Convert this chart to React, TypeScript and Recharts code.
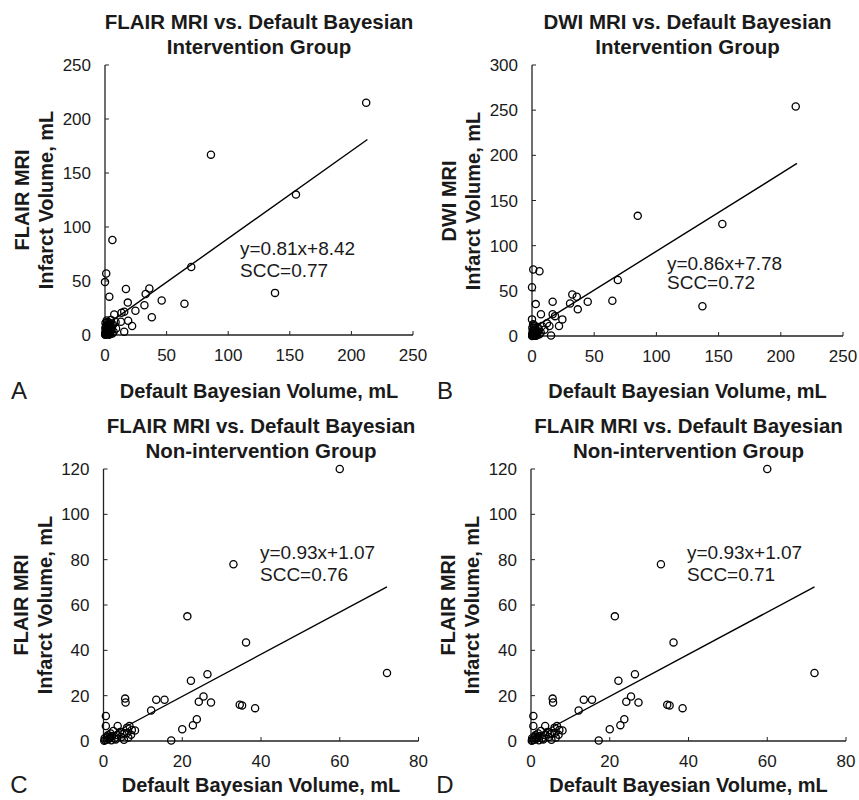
import React from "react";
import { ScatterChart, Scatter, XAxis, YAxis, ReferenceLine } from "recharts";

type Pt = { x: number; y: number };

// -------------------------------
// Panel A: FLAIR MRI vs default Bayesian, intervention group
// -------------------------------
const flairIntervention: Pt[] = [
  { x: 212, y: 215 }, { x: 86, y: 167 }, { x: 155, y: 130 }, { x: 6, y: 88 },
  { x: 70, y: 63 }, { x: 138, y: 39 }, { x: 1, y: 57 }, { x: 0, y: 49 },
  { x: 3.5, y: 35.5 }, { x: 17, y: 42.6 }, { x: 36, y: 43 }, { x: 33, y: 38 },
  { x: 18.5, y: 30 }, { x: 46, y: 32 }, { x: 64.5, y: 29 }, { x: 32, y: 27.5 },
  { x: 24.7, y: 22.5 }, { x: 38, y: 16.4 }, { x: 7.5, y: 19 }, { x: 13.4, y: 20.6 },
  { x: 15.6, y: 21.6 }, { x: 12.9, y: 12.3 }, { x: 18.8, y: 13.2 }, { x: 22, y: 8.3 },
  { x: 15.6, y: 3 }, { x: 8.6, y: 12 }, { x: 5.4, y: 9.3 }, { x: 4.8, y: 14 },
  { x: 0.5, y: 0.5 }, { x: 1, y: 1 }, { x: 1.5, y: 2 }, { x: 2, y: 0.8 },
  { x: 0.8, y: 3 }, { x: 2.5, y: 3.5 }, { x: 3, y: 1.5 }, { x: 1.2, y: 5 },
  { x: 0.3, y: 6.5 }, { x: 2, y: 7 }, { x: 3.5, y: 5.5 }, { x: 4, y: 2.5 },
  { x: 4.5, y: 8 }, { x: 5, y: 4 }, { x: 6, y: 1.5 }, { x: 1, y: 9 },
  { x: 2.8, y: 10.5 }, { x: 0.2, y: 2 }, { x: 3.2, y: 0.3 }, { x: 5.5, y: 6.5 },
  { x: 7, y: 3 }, { x: 1.8, y: 12 }, { x: 4, y: 11 }, { x: 6.5, y: 9.5 },
  { x: 0.6, y: 4.2 }, { x: 2.2, y: 1.2 }, { x: 0.1, y: 0.2 }, { x: 9, y: 6 },
  { x: 0.4, y: 11 }, { x: 1.4, y: 13.5 }, { x: 2.6, y: 5.8 }, { x: 3.8, y: 8.5 },
  { x: 1.7, y: 3.8 }, { x: 0.9, y: 7.6 }, { x: 4.2, y: 0.9 }, { x: 2.9, y: 2.6 },
];
const fitFlairIntervention: Pt[] = [{ x: 0, y: 8.4 }, { x: 213, y: 181 }];

// -------------------------------
// Panel B: DWI MRI vs default Bayesian, intervention group
// -------------------------------
const dwiIntervention: Pt[] = [
  { x: 212, y: 254 }, { x: 85, y: 133 }, { x: 153, y: 124 }, { x: 69, y: 62 },
  { x: 137, y: 33 }, { x: 1, y: 73.6 }, { x: 6, y: 71.7 }, { x: 0, y: 54 },
  { x: 3, y: 35.3 }, { x: 16.6, y: 37.9 }, { x: 32.4, y: 46 }, { x: 36, y: 43.4 },
  { x: 30.6, y: 36 }, { x: 44.8, y: 37.9 }, { x: 64.6, y: 39 }, { x: 36.8, y: 29.5 },
  { x: 7.2, y: 24 }, { x: 16.6, y: 24 }, { x: 18.5, y: 22 }, { x: 24.4, y: 18.4 },
  { x: 21.7, y: 11 }, { x: 15.3, y: 0.5 }, { x: 0, y: 18.4 }, { x: 12, y: 14 },
  { x: 14, y: 11 }, { x: 8, y: 11 }, { x: 4.5, y: 10 }, { x: 10, y: 7 },
  { x: 0.5, y: 0.5 }, { x: 1, y: 1.5 }, { x: 1.5, y: 3 }, { x: 2, y: 1 },
  { x: 0.8, y: 4.5 }, { x: 2.5, y: 5 }, { x: 3, y: 2 }, { x: 1.2, y: 7 },
  { x: 0.3, y: 9 }, { x: 2, y: 8.5 }, { x: 3.5, y: 6 }, { x: 4, y: 3 },
  { x: 5, y: 5 }, { x: 6, y: 2 }, { x: 0.2, y: 2.5 }, { x: 3.2, y: 0.3 },
  { x: 5.5, y: 7.5 }, { x: 7, y: 4 }, { x: 1.8, y: 12 }, { x: 0.6, y: 5.8 },
  { x: 0.1, y: 0.1 }, { x: 2.2, y: 0.4 }, { x: 1.4, y: 10.5 }, { x: 2.7, y: 3.8 },
  { x: 4.2, y: 1.2 }, { x: 0.9, y: 13 },
];
const fitDwiIntervention: Pt[] = [{ x: 0, y: 7.8 }, { x: 213, y: 191 }];

// -------------------------------
// Panels C and D: FLAIR MRI vs default Bayesian, non-intervention group
// -------------------------------
const flairNonIntervention: Pt[] = [
  { x: 60, y: 120 }, { x: 33, y: 78 }, { x: 21.3, y: 55 }, { x: 36.2, y: 43.5 },
  { x: 72, y: 30 }, { x: 22.2, y: 26.6 }, { x: 26.4, y: 29.5 }, { x: 25.4, y: 19.6 },
  { x: 24.2, y: 17.3 }, { x: 27.3, y: 17 }, { x: 34.6, y: 16 }, { x: 35.2, y: 15.7 },
  { x: 38.5, y: 14.5 }, { x: 23.7, y: 9.6 }, { x: 22.7, y: 7 }, { x: 20, y: 5.2 },
  { x: 17.2, y: 0.2 }, { x: 13.4, y: 18.2 }, { x: 15.5, y: 18.2 }, { x: 12.1, y: 13.5 },
  { x: 5.5, y: 18.7 }, { x: 5.6, y: 17 }, { x: 0.6, y: 11 }, { x: 0.6, y: 6.6 },
  { x: 3.6, y: 6.6 }, { x: 6.6, y: 6.6 }, { x: 8, y: 4.6 }, { x: 2.5, y: 4.4 },
  { x: 4.2, y: 4 }, { x: 5.3, y: 3.4 }, { x: 6.3, y: 1.5 }, { x: 1, y: 1.8 },
  { x: 0.4, y: 0.4 }, { x: 3.1, y: 0.7 }, { x: 7.2, y: 4.9 }, { x: 6, y: 5.9 },
  { x: 1.8, y: 3.3 }, { x: 0.2, y: 0.1 }, { x: 0.8, y: 0.6 }, { x: 1.3, y: 0.9 },
  { x: 1.6, y: 1.4 }, { x: 2.2, y: 2.2 }, { x: 2.8, y: 1.1 }, { x: 3.5, y: 2.6 },
  { x: 4.5, y: 1.8 }, { x: 4.8, y: 3 }, { x: 5.2, y: 0.5 }, { x: 6, y: 3.5 },
  { x: 7, y: 2.8 }, { x: 1.1, y: 2.5 }, { x: 0.3, y: 1.2 }, { x: 2, y: 0.3 },
];
const fitFlairNonIntervention: Pt[] = [{ x: 0, y: 1.1 }, { x: 72, y: 68 }];

// tick labels
const ticksTopX = [0, 50, 100, 150, 200, 250];
const ticksAY = [0, 50, 100, 150, 200, 250];
const ticksBY = [0, 50, 100, 150, 200, 250, 300];
const ticksBottomX = [0, 20, 40, 60, 80];
const ticksBottomY = [0, 20, 40, 60, 80, 100, 120];

const W = 859;
const H = 800;
const INK = "#1a1a1a";
const FONT = "'Liberation Sans', Arial, Helvetica, sans-serif";

const Ring = (props: any) => {
  if (props.cx == null || props.cy == null) return null;
  return (
    <circle cx={props.cx} cy={props.cy} r={3.6} fill="none" stroke="#000" strokeWidth={1.3} />
  );
};

type Panel = {
  data: Pt[];
  fit: Pt[];
  left: number; right: number; top: number; bottom: number;
  xMax: number; yMax: number;
  xTicks: number[]; yTicks: number[];
  title1: string; title2: string; yLabel: string;
  eq: string; scc: string; eqX: number; eqY: number; sccY: number;
  letter: string; letterX: number; xLabelY: number;
};

const panels: Panel[] = [
  {
    data: flairIntervention, fit: fitFlairIntervention,
    left: 105, right: 413, top: 65, bottom: 335, xMax: 250, yMax: 250,
    xTicks: ticksTopX, yTicks: ticksAY,
    title1: "FLAIR MRI vs. Default Bayesian", title2: "Intervention Group", yLabel: "FLAIR MRI",
    eq: "y=0.81x+8.42", scc: "SCC=0.77", eqX: 240, eqY: 248, sccY: 270,
    letter: "A", letterX: 19, xLabelY: 391,
  },
  {
    data: dwiIntervention, fit: fitDwiIntervention,
    left: 532, right: 843, top: 65, bottom: 336, xMax: 250, yMax: 300,
    xTicks: ticksTopX, yTicks: ticksBY,
    title1: "DWI MRI vs. Default Bayesian", title2: "Intervention Group", yLabel: "DWI MRI",
    eq: "y=0.86x+7.78", scc: "SCC=0.72", eqX: 667, eqY: 263, sccY: 282,
    letter: "B", letterX: 445, xLabelY: 391,
  },
  {
    data: flairNonIntervention, fit: fitFlairNonIntervention,
    left: 103.5, right: 418.5, top: 469, bottom: 741, xMax: 80, yMax: 120,
    xTicks: ticksBottomX, yTicks: ticksBottomY,
    title1: "FLAIR MRI vs. Default Bayesian", title2: "Non-intervention Group", yLabel: "FLAIR MRI",
    eq: "y=0.93x+1.07", scc: "SCC=0.76", eqX: 260, eqY: 552, sccY: 574,
    letter: "C", letterX: 19, xLabelY: 785,
  },
  {
    data: flairNonIntervention, fit: fitFlairNonIntervention,
    left: 531, right: 846, top: 469, bottom: 741, xMax: 80, yMax: 120,
    xTicks: ticksBottomX, yTicks: ticksBottomY,
    title1: "FLAIR MRI vs. Default Bayesian", title2: "Non-intervention Group", yLabel: "FLAIR MRI",
    eq: "y=0.93x+1.07", scc: "SCC=0.71", eqX: 687, eqY: 552, sccY: 574,
    letter: "D", letterX: 445, xLabelY: 785,
  },
];

const centered = (x: number, y: number, extra: React.CSSProperties = {}): React.CSSProperties => ({
  position: "absolute",
  left: x,
  top: y,
  transform: "translate(-50%, -50%)",
  whiteSpace: "nowrap",
  lineHeight: 1,
  color: INK,
  ...extra,
});

function PanelChart({ p }: { p: Panel }) {
  const yAxisW = 60;
  const xAxisH = 30;
  const cx = (p.left + p.right) / 2;
  const cy = (p.top + p.bottom) / 2;
  const rot = "translate(-50%, -50%) rotate(-90deg)";
  return (
    <>
      <div style={{ position: "absolute", left: 0, top: 0 }}>
        <ScatterChart
          width={W}
          height={H}
          margin={{
            top: p.top,
            right: W - p.right,
            bottom: H - p.bottom - xAxisH,
            left: p.left - yAxisW,
          }}
        >
          <XAxis
            type="number"
            dataKey="x"
            domain={[0, p.xMax]}
            ticks={p.xTicks}
            interval={0}
            height={xAxisH}
            tickSize={-4}
            tickMargin={18}
            axisLine={{ stroke: "#222", strokeWidth: 1.3 }}
            tickLine={{ stroke: "#222" }}
            tick={{ fill: INK, fontSize: 17, fontFamily: FONT }}
          />
          <YAxis
            type="number"
            dataKey="y"
            domain={[0, p.yMax]}
            ticks={p.yTicks}
            interval={0}
            width={yAxisW}
            tickSize={-4}
            tickMargin={18}
            axisLine={{ stroke: "#222", strokeWidth: 1.3 }}
            tickLine={{ stroke: "#222" }}
            tick={{ fill: INK, fontSize: 17, fontFamily: FONT }}
          />
          <ReferenceLine
            segment={[p.fit[0], p.fit[1]]}
            stroke="#000"
            strokeWidth={1.4}
            ifOverflow="visible"
          />
          <Scatter data={p.data} shape={Ring} isAnimationActive={false} />
        </ScatterChart>
      </div>
      <div style={centered(cx, p.top - 43, { fontWeight: 700, fontSize: 20.5 })}>{p.title1}</div>
      <div style={centered(cx, p.top - 18, { fontWeight: 700, fontSize: 20.5 })}>{p.title2}</div>
      <div style={centered(p.left - 83, cy, { fontWeight: 700, fontSize: 20, transform: rot })}>
        {p.yLabel}
      </div>
      <div style={centered(p.left - 59, cy, { fontWeight: 700, fontSize: 20, transform: rot })}>
        Infarct Volume, mL
      </div>
      <div style={centered(cx, p.xLabelY, { fontWeight: 700, fontSize: 20 })}>Default Bayesian Volume, mL</div>
      <div style={centered(p.letterX, p.xLabelY, { fontSize: 24 })}>{p.letter}</div>
      <div style={{ ...centered(p.eqX, p.eqY, { fontSize: 19 }), transform: "translate(0, -50%)" }}>{p.eq}</div>
      <div style={{ ...centered(p.eqX, p.sccY, { fontSize: 19 }), transform: "translate(0, -50%)" }}>{p.scc}</div>
    </>
  );
}

export default function App() {
  return (
    <div
      style={{
        position: "absolute",
        left: 0,
        top: 0,
        width: W,
        height: H,
        background: "#fff",
        fontFamily: FONT,
        overflow: "hidden",
      }}
    >
      {panels.map((p, i) => (
        <PanelChart key={i} p={p} />
      ))}
    </div>
  );
}
